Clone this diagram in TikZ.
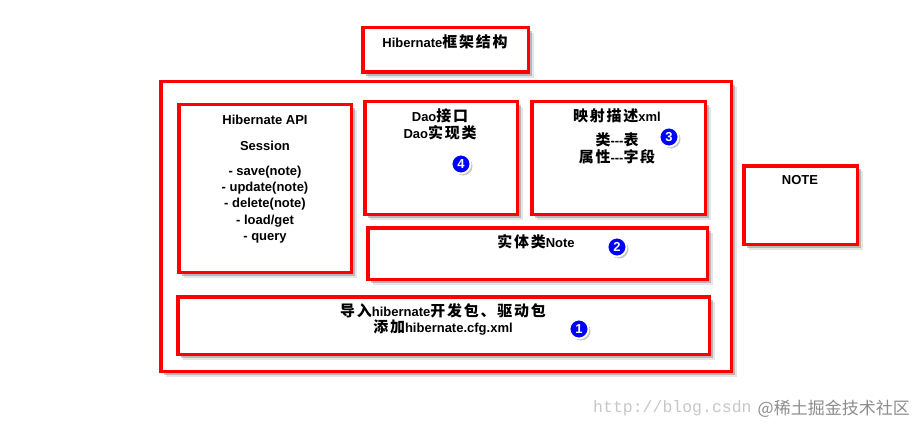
\documentclass[tikz,border=0pt]{standalone}
\usepackage{fontspec}
\setmainfont{Liberation Sans}
\newfontfamily\cjk{Noto Sans CJK SC}[Scale=1.15, LetterSpace=12]
\newfontfamily\cjkplain{Noto Sans CJK SC}
\newfontfamily\wmmono{Liberation Mono}
\usetikzlibrary{shadows}
\newcommand\zh[1]{{\cjk #1}}
\definecolor{boxred}{RGB}{255,0,0}
\definecolor{badgeblue}{RGB}{0,0,255}
\begin{document}
\begin{tikzpicture}[x=1pt,y=-1pt,
  box/.style={draw=boxred, line width=3.5pt, fill=white, inner sep=0pt,
    drop shadow={shadow xshift=5.5pt, shadow yshift=-5.5pt, fill=black!40, opacity=0.25},
    drop shadow={shadow xshift=3.5pt, shadow yshift=-3.5pt, fill=black!50, opacity=0.45}},
  txt/.style={font=\bfseries\fontsize{13}{16.3}\selectfont, align=center, inner sep=0pt},
  badge/.style={circle, fill=badgeblue, draw=white, line width=1.8pt, minimum size=19pt,
    inner sep=0pt, text=white, font=\bfseries\fontsize{13}{13}\selectfont,
    drop shadow={shadow xshift=2pt, shadow yshift=-2pt, fill=black!45, opacity=0.5}}]
\useasboundingbox (0,0) rectangle (915,425);
% boxes
\node[box, minimum width=165.5pt, minimum height=44.5pt] (title) at (445.5,50) {};
\node[box, minimum width=570.5pt, minimum height=289.5pt] (outer) at (446,226.5) {};
\node[box, minimum width=172.5pt, minimum height=167.5pt] (api) at (265,188.5) {};
\node[box, minimum width=152.5pt, minimum height=112.5pt] (dao) at (441,158) {};
\node[box, minimum width=173.5pt, minimum height=112.5pt] (map) at (618.5,158) {};
\node[box, minimum width=339.5pt, minimum height=51.5pt] (entity) at (537.5,253.5) {};
\node[box, minimum width=113.5pt, minimum height=78.5pt] (note) at (800.5,205) {};
\node[box, minimum width=531.5pt, minimum height=57.5pt] (bottom) at (443.5,325.5) {};
% texts
\node[txt] (titletxt) at (445,42) {Hibernate\zh{框架结构}};
\node[txt] (api1) at (265,120) {Hibernate API};
\node[txt] (api2) at (265,146) {Session};
\node[txt] (api3) at (265,204.5) {- save(note)\\- update(note)\\- delete(note)\\- load/get\\- query};
\node[txt, font=\bfseries\fontsize{13}{17}\selectfont] (daotxt) at (440,124.5) {Dao\zh{接口}\\Dao\zh{实现类}};
\node[txt] (map1) at (617,116) {\zh{映射描述}xml};
\node[txt, font=\bfseries\fontsize{13}{17}\selectfont] (map2) at (617,148.5) {\zh{类}-{}-{}-\zh{表}\\\zh{属性}-{}-{}-\zh{字段}};
\node[txt] (notetxt) at (800,180) {NOTE};
\node[txt] (entitytxt) at (536,242) {\zh{实体类}Note};
\node[txt, font=\bfseries\fontsize{13}{16}\selectfont] (bottomtxt) at (443,319) {\zh{导入}hibernate\zh{开发包、驱动包}\\\zh{添加}hibernate.cfg.xml};
% badges
\node[badge] (b1) at (579,329) {1};
\node[badge] (b2) at (617,247) {2};
\node[badge] (b3) at (669,137) {3};
\node[badge] (b4) at (461,164) {4};
% watermark
\node[anchor=west, inner sep=0pt, text=black!22, font=\wmmono\fontsize{16.5}{16.5}\selectfont] (wm1) at (593,408) {http://blog.csdn};
\node[anchor=east, inner sep=0pt, text=black!45, font=\cjkplain\fontsize{17}{17}\selectfont] (wm2) at (910,409) {@稀土掘金技术社区};
\end{tikzpicture}
\end{document}
